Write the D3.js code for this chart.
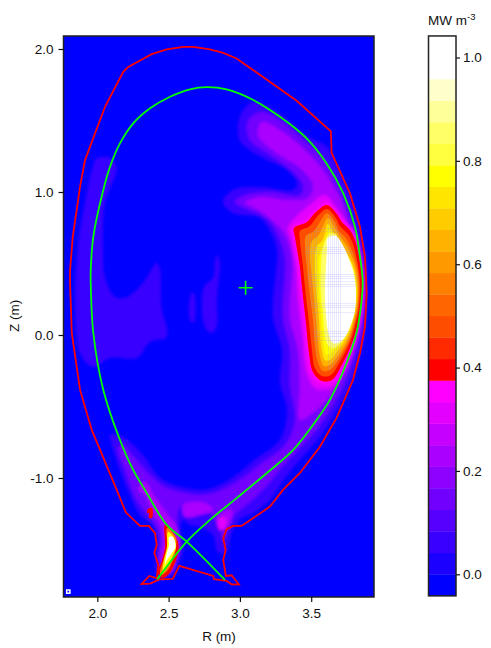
<!DOCTYPE html>
<html>
<head>
<meta charset="utf-8">
<script src="https://cdn.jsdelivr.net/npm/d3@7/dist/d3.min.js"></script>
<style>
  html, body { margin: 0; padding: 0; background: #fff; }
  text { font-family: "Liberation Sans", Arial, sans-serif; fill: #111; }
</style>
</head>
<body>
<svg id="chart" width="491" height="648"></svg>
<script>
const rTicks = [2.0, 2.5, 3.0, 3.5];
const zTicks = [2.0, 1.0, 0.0, -1.0];
const cbarTicks = [0.0, 0.2, 0.4, 0.6, 0.8, 1.0];

// colour bar bands, each 1/24 wide, lowest first
const bandColors = ["#0000ff", "#1c00ff", "#3900ff", "#5500ff", "#7100ff", "#8e00ff", "#aa00ff", "#c600ff", "#e300ff", "#ff00ff",
                    "#ff0000", "#ff2a00", "#ff4d00", "#ff6600", "#ff8000", "#ff9900", "#ffb300", "#ffcc00", "#ffe600", "#ffff00",
                    "#ffff40", "#ffff66", "#ffff99", "#ffffcc", "#ffffff", "#ffffff"];

// machine wall, R and Z in metres
const vessel = [[1.809,.454],[1.828,.687],[1.879,1.037],[1.914,1.223],[2.054,1.596],[2.182,1.840],[2.217,1.875],[2.381,1.964],
  [2.487,1.997],[2.603,2.015],[2.673,2.015],[2.790,1.997],[2.883,1.973],[2.977,1.934],[3.398,1.638],[3.638,1.424],[3.643,1.274],
  [3.772,.990],[3.842,.757],[3.877,.547],[3.889,.294],[3.877,.058],[3.842,-.126],[3.793,-.315],[3.678,-.580],[3.561,-.781],
  [3.421,-.965],[3.302,-1.083],[3.211,-1.200],[3.012,-1.335],[2.953,-1.335],[2.907,-1.358],[2.883,-1.421],[2.900,-1.503],
  [2.883,-1.573],[2.902,-1.685],[2.942,-1.680],[2.993,-1.745],[2.942,-1.743],[2.907,-1.720],[2.818,-1.708],[2.813,-1.685],
  [2.575,-1.615],[2.529,-1.706],[2.440,-1.708],[2.370,-1.738],[2.311,-1.741],[2.365,-1.685],[2.417,-1.701],[2.428,-1.608],
  [2.400,-1.524],[2.417,-1.468],[2.405,-1.386],[2.362,-1.335],[2.299,-1.335],[2.201,-1.242],[2.136,-1.083],[1.961,-.664],
  [1.879,-.384],[1.821,.014],[1.809,.363],[1.809,.454]];

// plasma boundary, the path crosses itself at the x-point
const separatrix = [[2.895,-1.713],[2.627,-1.445],[2.487,-1.328],[2.334,-1.083],[2.252,-.944],[2.159,-.734],[2.042,-.384],
  [1.972,.014],[1.954,.363],[1.954,.454],[1.972,.687],[2.042,1.014],[2.089,1.176],[2.159,1.340],[2.252,1.480],[2.370,1.585],
  [2.510,1.666],[2.650,1.718],[2.767,1.733],[2.907,1.717],[3.094,1.643],[3.281,1.526],[3.468,1.375],[3.608,1.200],[3.725,.990],
  [3.807,.757],[3.842,.547],[3.861,.384],[3.854,.245],[3.818,.014],[3.748,-.196],[3.631,-.454],[3.538,-.594],[3.374,-.804],
  [3.187,-.967],[2.977,-1.141],[2.790,-1.293],[2.627,-1.445],[2.421,-1.708]];

const axisCentre = [3.04, 0.33];

// faint mesh lines seen through the hot region
const meshR = [3.464, 3.482, 3.501, 3.520, 3.539, 3.620, 3.634, 3.648, 3.662, 3.676, 3.690, 3.704];
const meshZ = [.746, .727, .610, .597, .583, .569, .420, .406, .392, .373, .355, .338, .222, .208, .191, .159, .023, .007, -.012, -.035];

// contours of the emission: [R, Z]
const inboard2 = [[1.996,1.237],[2.089,1.237],[2.136,1.167],[2.054,.923],[2.040,.594],[2.054,.405],[2.124,.266],[2.208,.266],
  [2.320,.363],[2.419,.503],[2.440,.454],[2.452,.175],[2.487,.056],[2.487,-.014],[2.370,-.049],[2.278,-.161],[2.089,-.161],
  [1.970,-.224],[1.879,-.126],[1.844,.294],[1.858,.545],[1.879,.734],[1.935,1.035],[1.963,1.153]];
const centreA2 = [[2.837,.559],[2.860,.503],[2.853,.405],[2.839,.245],[2.837,.056],[2.802,.014],[2.755,.056],[2.748,.336],[2.811,.398],[2.825,.510]];
const centreB2 = [[2.662,.294],[2.678,.294],[2.678,.084],[2.650,.105],[2.645,.224]];
const outboard2 = [[2.998,1.524],[3.085,1.629],[3.155,1.615],[3.281,1.545],[3.470,1.391],[3.610,1.314],[3.701,1.132],[3.793,.923],
  [3.856,.685],[3.891,.503],[3.898,.294],[3.884,.056],[3.849,-.140],[3.772,-.350],[3.673,-.538],[3.561,-.713],[3.421,-.874],
  [3.316,-1.000],[3.211,-1.153],[3.106,-1.237],[2.998,-1.293],[2.944,-1.377],[2.902,-1.517],[2.846,-1.517],[2.811,-1.398],
  [2.720,-1.342],[2.650,-1.328],[2.601,-1.293],[2.580,-1.363],[2.601,-1.489],[2.566,-1.608],[2.510,-1.692],[2.426,-1.699],
  [2.405,-1.573],[2.419,-1.433],[2.384,-1.328],[2.299,-1.258],[2.229,-1.118],[2.159,-.944],[2.103,-.769],[2.089,-.699],
  [2.180,-.713],[2.320,-.839],[2.391,-.944],[2.461,-1.014],[2.650,-1.076],[2.790,-1.076],[2.944,-1.000],[3.120,-.860],
  [3.281,-.734],[3.330,-.524],[3.281,-.336],[3.295,-.105],[3.232,.126],[3.260,.594],[3.232,.685],[3.141,.818],[2.951,.853],
  [2.881,.930],[2.951,1.014],[3.141,1.035],[3.372,1.014],[3.400,1.062],[3.330,1.153],[3.162,1.237],[3.050,1.307],[2.998,1.363]];
const outboard4 = [[3.071,1.517],[3.155,1.559],[3.295,1.489],[3.477,1.335],[3.617,1.188],[3.701,1.014],[3.772,.839],[3.828,.664],
  [3.870,.454],[3.877,.280],[3.863,.070],[3.821,-.105],[3.750,-.301],[3.652,-.489],[3.547,-.650],[3.421,-.790],[3.295,-.923],
  [3.176,-1.069],[3.056,-1.181],[2.965,-1.258],[2.916,-1.363],[2.888,-1.433],[2.846,-1.328],[2.755,-1.209],[2.650,-1.188],
  [2.580,-1.202],[2.559,-1.363],[2.587,-1.482],[2.552,-1.587],[2.510,-1.671],[2.440,-1.671],[2.426,-1.573],[2.440,-1.433],
  [2.405,-1.328],[2.334,-1.237],[2.264,-1.132],[2.194,-.944],[2.145,-.790],[2.173,-.769],[2.264,-.860],[2.370,-.979],
  [2.475,-1.062],[2.650,-1.111],[2.790,-1.111],[2.965,-1.035],[3.155,-.895],[3.316,-.769],[3.386,-.594],[3.351,-.350],
  [3.351,-.105],[3.302,.126],[3.316,.524],[3.281,.664],[3.197,.804],[3.035,.888],[2.965,.930],[3.035,.979],[3.211,1.000],
  [3.421,.979],[3.442,1.049],[3.372,1.139],[3.211,1.258],[3.071,1.363],[3.050,1.468]];
const outboard6 = [[3.155,1.489],[3.281,1.433],[3.491,1.258],[3.631,1.083],[3.722,.909],[3.786,.664],[3.842,.454],[3.849,.245],
  [3.828,.035],[3.772,-.175],[3.687,-.350],[3.596,-.468],[3.491,-.559],[3.421,-.594],[3.421,-.350],[3.407,-.105],[3.351,.126],
  [3.365,.524],[3.316,.699],[3.225,.804],[3.106,.888],[3.035,.923],[3.141,.965],[3.316,.944],[3.477,.958],[3.512,1.049],
  [3.421,1.167],[3.246,1.279],[3.127,1.398]];
const leftLeg6 = [[2.285,-1.083],[2.334,-1.118],[2.384,-1.237],[2.440,-1.328],[2.461,-1.433],[2.440,-1.573],[2.475,-1.657],
  [2.524,-1.657],[2.559,-1.538],[2.580,-1.433],[2.552,-1.328],[2.496,-1.258],[2.405,-1.132],[2.334,-1.028]];
const rightLeg6 = [[2.874,-1.244],[2.944,-1.223],[2.937,-1.293],[2.895,-1.363],[2.853,-1.349],[2.839,-1.293]];
const rightLeg8 = [[2.846,-1.293],[2.895,-1.272],[2.902,-1.335],[2.860,-1.363]];
const arc6 = [[2.601,-1.188],[2.755,-1.174],[2.811,-1.223],[2.720,-1.258],[2.615,-1.272]];
const blob8 = [[3.337,.748],[3.505,.923],[3.596,.979],[3.687,.874],[3.757,.769],[3.828,.559],[3.863,.350],[3.849,.105],[3.800,-.105],
  [3.736,-.259],[3.645,-.370],[3.526,-.370],[3.463,-.245],[3.442,-.035],[3.407,.245],[3.393,.454],[3.358,.664]];
const blob9 = [[3.610,.930],[3.687,.860],[3.729,.804],[3.786,.748],[3.821,.678],[3.849,.552],[3.870,.384],[3.863,.189],[3.835,.049],
  [3.800,-.070],[3.729,-.231],[3.652,-.336],[3.568,-.343],[3.498,-.273],[3.470,-.133],[3.449,.084],[3.421,.336],[3.407,.475],
  [3.372,.685],[3.365,.755],[3.456,.804],[3.519,.867]];
const blob10 = [[3.610,.909],[3.680,.846],[3.715,.790],[3.772,.734],[3.807,.664],[3.835,.545],[3.856,.384],[3.849,.196],[3.821,.056],
  [3.786,-.056],[3.715,-.210],[3.645,-.315],[3.575,-.322],[3.512,-.259],[3.484,-.126],[3.463,.084],[3.435,.336],[3.421,.475],
  [3.386,.685],[3.379,.748],[3.470,.790],[3.526,.853]];
const blob12 = [[3.610,.881],[3.673,.818],[3.701,.762],[3.757,.706],[3.793,.636],[3.821,.524],[3.842,.370],[3.835,.196],[3.807,.063],
  [3.772,-.049],[3.701,-.189],[3.638,-.280],[3.575,-.287],[3.526,-.231],[3.505,-.105],[3.484,.091],[3.456,.336],[3.442,.482],
  [3.421,.664],[3.421,.727],[3.491,.762],[3.540,.825]];
const blob14 = [[3.610,.853],[3.666,.790],[3.694,.727],[3.743,.678],[3.778,.608],[3.814,.510],[3.835,.356],[3.828,.196],[3.800,.063],
  [3.765,-.042],[3.694,-.168],[3.631,-.245],[3.582,-.252],[3.547,-.189],[3.526,-.070],[3.512,.105],[3.484,.336],[3.470,.475],
  [3.456,.629],[3.463,.692],[3.519,.727],[3.561,.790]];
const blob16 = [[3.617,.818],[3.666,.748],[3.694,.699],[3.736,.643],[3.772,.580],[3.807,.489],[3.828,.350],[3.821,.196],[3.793,.070],
  [3.757,-.035],[3.687,-.147],[3.631,-.210],[3.589,-.217],[3.561,-.147],[3.547,-.035],[3.533,.119],[3.512,.336],[3.498,.468],
  [3.491,.594],[3.505,.657],[3.547,.692],[3.582,.755]];
const blob18 = [[3.617,.776],[3.659,.713],[3.687,.664],[3.729,.608],[3.764,.545],[3.800,.468],[3.821,.336],[3.814,.196],[3.786,.070],
  [3.750,-.021],[3.680,-.119],[3.631,-.175],[3.596,-.175],[3.575,-.105],[3.561,0],[3.554,.133],[3.533,.336],[3.526,.468],
  [3.526,.559],[3.540,.622],[3.575,.657],[3.596,.713]];
const blob19 = [[3.624,.734],[3.659,.678],[3.687,.629],[3.722,.573],[3.757,.510],[3.793,.440],[3.814,.322],[3.807,.196],[3.778,.084],
  [3.743,0],[3.673,-.091],[3.631,-.133],[3.603,-.133],[3.589,-.070],[3.575,.035],[3.568,.147],[3.554,.336],[3.554,.454],
  [3.554,.524],[3.568,.587],[3.596,.629],[3.610,.678]];
const blob21 = [[3.624,.706],[3.673,.706],[3.694,.643],[3.736,.594],[3.772,.524],[3.800,.440],[3.814,.315],[3.807,.182],[3.778,.077],
  [3.743,-.007],[3.687,-.077],[3.645,-.091],[3.610,-.063],[3.596,0],[3.582,.147],[3.568,.294],[3.568,.475],[3.575,.580],[3.596,.657]];
const blob24 = [[3.617,.678],[3.673,.692],[3.729,.615],[3.764,.531],[3.800,.419],[3.814,.294],[3.807,.175],[3.778,.070],[3.736,-.014],
  [3.687,-.056],[3.652,-.056],[3.624,0],[3.603,.154],[3.596,.294],[3.603,.475],[3.610,.594]];
const spot10 = [[2.475,-1.328],[2.566,-1.447],[2.559,-1.552],[2.496,-1.678],[2.454,-1.699],[2.426,-1.664],[2.454,-1.573],[2.475,-1.482]];
const spot14 = [[2.489,-1.349],[2.552,-1.419],[2.552,-1.482],[2.538,-1.552],[2.489,-1.650],[2.447,-1.678],[2.440,-1.657],[2.468,-1.559],[2.489,-1.468]];
const spot19 = [[2.496,-1.377],[2.538,-1.419],[2.552,-1.482],[2.531,-1.538],[2.496,-1.615],[2.461,-1.650],[2.468,-1.573],[2.489,-1.489]];
const spot24 = [[2.503,-1.412],[2.531,-1.412],[2.548,-1.482],[2.524,-1.524],[2.489,-1.573],[2.475,-1.601],[2.489,-1.517],[2.503,-1.468]];
const leftMark10 = [[2.355,-1.216],[2.384,-1.209],[2.384,-1.279],[2.362,-1.279],[2.362,-1.244],[2.349,-1.244]];

// lowest level first, painted on top of each other
const coolContours = [
  {band: 2, pts: inboard2}, {band: 2, pts: centreA2}, {band: 2, pts: centreB2}, {band: 2, pts: outboard2},
  {band: 4, pts: outboard4}, {band: 6, pts: outboard6}, {band: 6, pts: leftLeg6}, {band: 6, pts: rightLeg6}, {band: 6, pts: arc6},
  {band: 8, pts: rightLeg8}, {band: 8, pts: blob8}, {band: 9, pts: blob9}
];
const hotContours = [
  {band: 10, pts: blob10}, {band: 12, pts: blob12}, {band: 14, pts: blob14}, {band: 16, pts: blob16}, {band: 18, pts: blob18},
  {band: 19, pts: blob19}, {band: 21, pts: blob21}, {band: 24, pts: blob24},
  {band: 10, pts: spot10}, {band: 14, pts: spot14}, {band: 19, pts: spot19}, {band: 24, pts: spot24}, {band: 10, pts: leftMark10}
];

const svg = d3.select("#chart");
const plot = {left: 63.5, right: 374, top: 36, bottom: 597};
const xScale = d3.scaleLinear().domain([2.0, 3.5]).range([97.3, 311.2]);
const yScale = d3.scaleLinear().domain([0, 2.0]).range([335, 49]);

const defs = svg.append("defs");
defs.append("clipPath").attr("id", "plotClip").append("rect")
  .attr("x", plot.left).attr("y", plot.top).attr("width", plot.right - plot.left).attr("height", plot.bottom - plot.top);
defs.append("filter").attr("id", "coolBlur").attr("filterUnits", "userSpaceOnUse")
  .attr("x", 0).attr("y", 0).attr("width", 491).attr("height", 648)
  .append("feGaussianBlur").attr("stdDeviation", 1.5);
defs.append("filter").attr("id", "hotBlur").attr("filterUnits", "userSpaceOnUse")
  .attr("x", 0).attr("y", 0).attr("width", 491).attr("height", 648)
  .append("feGaussianBlur").attr("stdDeviation", 0.6);

const smoothClosed = d3.line().x(d => xScale(d[0])).y(d => yScale(d[1])).curve(d3.curveCatmullRomClosed.alpha(0.5));
defs.append("clipPath").attr("id", "hotClip").append("path").attr("d", smoothClosed(blob14));

const heat = svg.append("g").attr("clip-path", "url(#plotClip)");
heat.append("rect").attr("x", plot.left).attr("y", plot.top)
  .attr("width", plot.right - plot.left).attr("height", plot.bottom - plot.top).attr("fill", bandColors[0]);

heat.append("g").attr("filter", "url(#coolBlur)")
  .selectAll("path").data(coolContours).enter().append("path")
  .attr("d", d => smoothClosed(d.pts))
  .attr("fill", d => bandColors[d.band]);
heat.append("g").attr("filter", "url(#hotBlur)")
  .selectAll("path").data(hotContours).enter().append("path")
  .attr("d", d => smoothClosed(d.pts))
  .attr("fill", d => bandColors[d.band]);

const mesh = heat.append("g").attr("clip-path", "url(#hotClip)")
  .attr("stroke", "#8888ff").attr("stroke-opacity", 0.18).attr("shape-rendering", "crispEdges");
mesh.selectAll("line.r").data(meshR).enter().append("line").attr("class", "r")
  .attr("x1", d => xScale(d)).attr("x2", d => xScale(d)).attr("y1", plot.top).attr("y2", plot.bottom);
mesh.selectAll("line.z").data(meshZ).enter().append("line").attr("class", "z")
  .attr("y1", d => yScale(d)).attr("y2", d => yScale(d)).attr("x1", plot.left).attr("x2", plot.right);

const openLine = d3.line().x(d => xScale(d[0])).y(d => yScale(d[1]));
heat.append("path").attr("d", openLine(vessel)).attr("fill", "none").attr("stroke", "#ff0000").attr("stroke-width", 1.8);
heat.append("path").attr("d", openLine.curve(d3.curveCatmullRom.alpha(0.5))(separatrix))
  .attr("fill", "none").attr("stroke", "#00ff00").attr("stroke-width", 1.8);

// magnetic axis
const cx = xScale(axisCentre[0]), cy = yScale(axisCentre[1]);
heat.append("path").attr("d", `M${cx - 7},${cy}H${cx + 7}M${cx},${cy - 7}V${cy + 7}`)
  .attr("stroke", "#00ff00").attr("stroke-width", 1.6).attr("fill", "none");

// little marker in the corner
svg.append("rect").attr("x", 66.7).attr("y", 590).attr("width", 3.2).attr("height", 3.2)
  .attr("fill", "#0000ff").attr("stroke", "#fff").attr("stroke-width", 1.5);

svg.append("rect").attr("x", plot.left).attr("y", plot.top).attr("width", plot.right - plot.left).attr("height", plot.bottom - plot.top)
  .attr("fill", "none").attr("stroke", "#222").attr("stroke-width", 1.5);

function styleAxis(g) {
  g.select(".domain").remove();
  g.selectAll("line").attr("stroke", "#111").attr("stroke-width", 1.2);
  g.selectAll("text").style("font-size", "13.5px");
}

svg.append("g").attr("transform", `translate(0,${plot.bottom})`)
  .call(d3.axisBottom(xScale).tickValues(rTicks).tickFormat(d => d.toFixed(1)).tickSize(5).tickPadding(6))
  .call(styleAxis);
svg.append("g").attr("transform", `translate(${plot.left},0)`)
  .call(d3.axisLeft(yScale).tickValues(zTicks).tickFormat(d => d.toFixed(1)).tickSize(5).tickPadding(5))
  .call(styleAxis);

svg.append("text").attr("x", 219).attr("y", 641).attr("text-anchor", "middle").style("font-size", "13.5px").text("R (m)");
svg.append("text").attr("transform", "translate(19,316) rotate(-90)").attr("text-anchor", "middle").style("font-size", "13.5px").text("Z (m)");

// colour bar
const cbar = {left: 428.5, right: 456};
const cScale = d3.scaleLinear().domain([0, 1]).range([574.3, 57.5]);
svg.selectAll("rect.band").data(bandColors).enter().append("rect")
  .attr("class", "band")
  .attr("x", cbar.left).attr("width", cbar.right - cbar.left)
  .attr("y", (d, i) => cScale(i / 24))
  .attr("height", cScale(0) - cScale(1 / 24) + 0.3)
  .attr("fill", d => d);
svg.append("rect").attr("x", cbar.left).attr("y", cScale(25 / 24)).attr("width", cbar.right - cbar.left)
  .attr("height", cScale(-1 / 24) - cScale(25 / 24)).attr("fill", "none").attr("stroke", "#222").attr("stroke-width", 1.5);
svg.append("g").attr("transform", `translate(${cbar.right},0)`)
  .call(d3.axisRight(cScale).tickValues(cbarTicks).tickFormat(d => d.toFixed(1)).tickSize(4).tickPadding(3))
  .call(styleAxis);

const unit = svg.append("text").attr("x", 428).attr("y", 25).style("font-size", "13.5px");
unit.append("tspan").text("MW m");
unit.append("tspan").attr("dy", -5).style("font-size", "9.5px").text("-3");
</script>
</body>
</html>
